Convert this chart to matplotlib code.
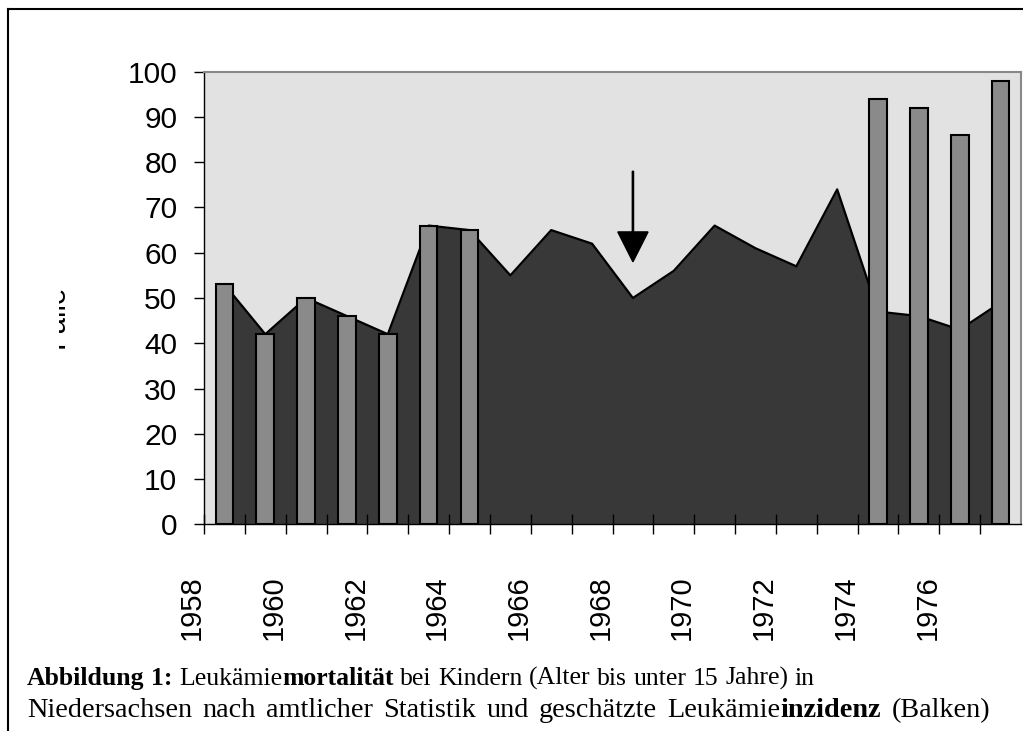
import matplotlib
matplotlib.use('Agg')
import numpy as np
import matplotlib.pyplot as plt
from matplotlib.lines import Line2D
from matplotlib.transforms import Bbox, TransformedBbox, ScaledTranslation

# one category per year
years = list(range(1958, 1978))
# Leukaemie-Mortalitaet (Flaeche)
mortality = [53, 42, 50, 46, 42, 66, 65, 55, 65, 62,
             50, 56, 66, 61, 57, 74, 47, 46, 43, 49]
# geschaetzte Inzidenz (Balken), None = kein Balken
incidence = [53, 42, 50, 46, 42, 66, 65, None, None, None,
             None, None, None, None, None, None, 94, 92, 86, 98]
xlabels = ['1958', '1960', '1962', '1964', '1966',
           '1968', '1970', '1972', '1974', '1976']
yticks = list(range(0, 101, 10))
arrow_year = 1968
arrow_from, arrow_to = 78, 58

W, H = 1023, 731
fig = plt.figure(figsize=(W / 100, H / 100), dpi=100)
ax = fig.add_axes([204 / W, 1 - 524.3 / H, 817 / W, (524.3 - 71.7) / H])
ax.set_facecolor('#e2e2e2')

pos = np.arange(len(years)) + 0.5

# area
ax.fill_between(pos, mortality, 0, color='#383838', lw=0, zorder=1)
ax.plot(pos, mortality, color='black', lw=1.6, zorder=2)

# bars
bx = [p for p, v in zip(pos, incidence) if v is not None]
bv = [v for v in incidence if v is not None]
ax.bar(bx, bv, width=0.43, color='#8a8a8a', edgecolor='black', lw=1.5, zorder=3)

# arrow
ai = years.index(arrow_year) + 0.5
ax.arrow(ai, arrow_from, 0, arrow_to - arrow_from, width=0.03,
         head_width=0.74, head_length=6.6, length_includes_head=True,
         color='black', zorder=4)

# ticks
ax.set_yticks(yticks)
ax.tick_params(axis='y', direction='out', length=7.2, width=1, pad=12,
               labelsize=21.5)
ax.set_xticks(np.arange(0, len(years), 2))
ax.set_xticklabels(xlabels, rotation=90, fontsize=21)
ax.set_xticks(np.arange(1, len(years) + 1, 2), minor=True)
ax.tick_params(axis='x', which='both', direction='inout', length=13.7,
               width=1)
ax.tick_params(axis='x', which='major', pad=30)
shift = ScaledTranslation(-0.12, 0, fig.dpi_scale_trans)
for lab in ax.get_xticklabels():
    lab.set_transform(lab.get_transform() + shift)
for lab in ax.get_xticklabels() + ax.get_yticklabels():
    lab.set_fontfamily('Liberation Sans')

ax.set_xlim(0, len(years))
ax.set_ylim(0, 100)

for s in ['left', 'bottom']:
    ax.spines[s].set_color('black')
    ax.spines[s].set_linewidth(1)
for s in ['top', 'right']:
    ax.spines[s].set_color('#888888')
    ax.spines[s].set_linewidth(1.5)

# clipped axis title
yl = fig.text(70 / W, 1 - 316 / H, 'Fälle', rotation=90, ha='right',
              va='center', fontsize=21, family='Liberation Sans')
yl.set_clip_box(TransformedBbox(Bbox([[58.5 / W, 1 - 350 / H],
                                      [90 / W, 1 - 280 / H]]),
                                fig.transFigure))
yl.set_clip_on(True)

# frame round the figure
fig.add_artist(Line2D([8 / W, 8 / W], [-0.1, 1 - 9 / H], color='black',
                      lw=1.5, transform=fig.transFigure))
fig.add_artist(Line2D([8 / W, 1.1], [1 - 9 / H, 1 - 9 / H], color='black',
                      lw=1.5, transform=fig.transFigure))

# caption: words, (text, weight, space before)
cap = [
    ([('Abbildung', 'bold', 0), ('1:', 'bold', 1), ('Leukämie', 'normal', 1),
      ('mortalität', 'bold', 0), ('bei', 'normal', 1), ('Kindern', 'normal', 1),
      ('(Alter', 'normal', 1), ('bis', 'normal', 1), ('unter', 'normal', 1),
      ('15', 'normal', 1), ('Jahre)', 'normal', 1), ('in', 'normal', 1)],
     685, 18.5, None),
    ([('Niedersachsen', 'normal', 0), ('nach', 'normal', 1),
      ('amtlicher', 'normal', 1), ('Statistik', 'normal', 1),
      ('und', 'normal', 1), ('geschätzte', 'normal', 1),
      ('Leukämie', 'normal', 1), ('inzidenz', 'bold', 0),
      ('(Balken)', 'normal', 1)],
     717, 20.3, 990),
]
r = fig.canvas.get_renderer()
for words, base, fs, end in cap:
    t1 = fig.text(0, 0, 'xx', fontsize=fs, family='Liberation Serif')
    t2 = fig.text(0, 0, 'x x', fontsize=fs, family='Liberation Serif')
    space = t2.get_window_extent(r).width - t1.get_window_extent(r).width
    t1.remove()
    t2.remove()
    texts = []
    widths = []
    for s, w, sp in words:
        t = fig.text(0, 1 - base / H, s, fontsize=fs, fontweight=w,
                     family='Liberation Serif', va='baseline')
        texts.append(t)
        widths.append(t.get_window_extent(r).width)
    ngap = sum(sp for _, _, sp in words)
    natural = sum(widths) + ngap * space
    extra = 0 if end is None else max(0, (end - 27 - natural) / ngap)
    x = 27
    for t, wd, (_, _, sp) in zip(texts, widths, words):
        x += sp * (space + extra)
        t.set_x(x / W)
        x += wd

fig.savefig('out.png', dpi=100)
